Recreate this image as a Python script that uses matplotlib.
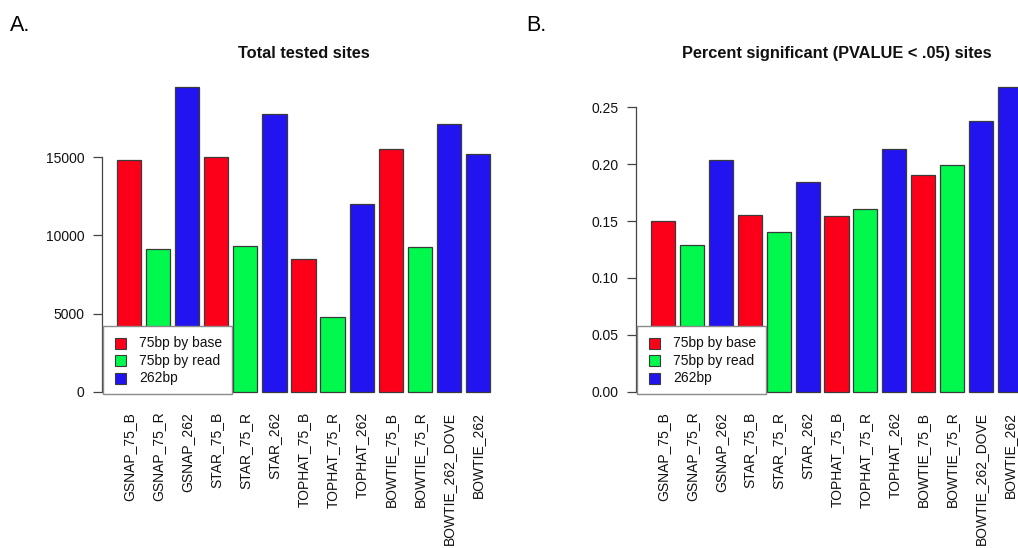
import matplotlib
matplotlib.use("Agg")
import matplotlib.pyplot as plt
import matplotlib.transforms as mtransforms
from matplotlib.patches import Rectangle

# ---- data -------------------------------------------------------------
samples = ["GSNAP_75_B", "GSNAP_75_R", "GSNAP_262",
           "STAR_75_B", "STAR_75_R", "STAR_262",
           "TOPHAT_75_B", "TOPHAT_75_R", "TOPHAT_262",
           "BOWTIE_75_B", "BOWTIE_75_R", "BOWTIE_262_DOVE", "BOWTIE_262"]
sample_group = [0, 1, 2, 0, 1, 2, 0, 1, 2, 0, 1, 2, 2]

total_sites = [14800, 9100, 19500, 15000, 9300, 17750,
               8500, 4750, 12000, 15500, 9250, 17100, 15200]
pct_significant = [0.150, 0.129, 0.204, 0.155, 0.140, 0.184,
                   0.154, 0.161, 0.213, 0.190, 0.199, 0.238, 0.268]

group_labels = ["75bp by base", "75bp by read", "262bp"]
group_colors = ["#fd0019", "#00f94c", "#2114f0"]

left_yticks = [0, 5000, 10000, 15000]
right_yticks = [0.00, 0.05, 0.10, 0.15, 0.20, 0.25]

titles = ["Total tested sites", "Percent significant (PVALUE < .05) sites"]
panel_tags = ["A.", "B."]

# ---- figure -------------------------------------------------------------
W, H = 1018, 548
fig = plt.figure(figsize=(W / 100, H / 100), dpi=100)
plt.rcParams["font.family"] = ["Liberation Sans", "DejaVu Sans"]

# pixel coordinates measured from the top-left corner
px = mtransforms.Affine2D().scale(1 / W, -1 / H).translate(0, 1) + fig.transFigure


def axes_at(x0, x1, y0, y1):
    return fig.add_axes([x0 / W, 1 - y1 / H, (x1 - x0) / W, (y1 - y0) / H])


def barplot(ax, values, yticks, fmt):
    # R-style barplot: width 1, gap 0.2, 4% padding on both axes
    n = len(values)
    lefts = [0.2 + 1.2 * i for i in range(n)]
    centers = [l + 0.5 for l in lefts]
    colors = [group_colors[g] for g in sample_group]
    ax.bar(centers, values, width=1.0, color=colors,
           edgecolor="#3a3a3a", linewidth=0.9, zorder=2)
    xr = (lefts[-1] + 1.0) - lefts[0]
    ax.set_xlim(lefts[0] - 0.04 * xr, lefts[-1] + 1.0 + 0.04 * xr)
    top = max(values)
    ax.set_ylim(-0.04 * top, top * 1.04)
    for s in ["top", "right", "bottom"]:
        ax.spines[s].set_visible(False)
    ax.spines["left"].set_bounds(yticks[0], yticks[-1])
    ax.spines["left"].set_color("#444444")
    ax.spines["left"].set_linewidth(0.9)
    ax.set_yticks(yticks)
    ax.set_yticklabels([fmt(v) for v in yticks])
    ax.tick_params(axis="y", length=6.5, width=0.9, color="#444444",
                   pad=6, labelsize=10, labelcolor="#111111")
    ax.set_xticks(centers)
    ax.set_xticklabels(samples, rotation=90, va="top", ha="center")
    ax.tick_params(axis="x", length=0, pad=5.5, labelsize=10,
                   labelcolor="#111111")
    ax.patch.set_alpha(0)


def legend_box(x0, y0, y1, w):
    # framed legend in pixel coordinates
    fig.add_artist(Rectangle((x0, y1), w, y0 - y1, transform=px,
                             facecolor="white", edgecolor="#8a8a8a",
                             linewidth=1.0, zorder=5))
    for i, (lab, col) in enumerate(zip(group_labels, group_colors)):
        yc = y0 + 17 + 17.5 * i
        fig.add_artist(Rectangle((x0 + 12, yc + 5.5), 11.5, -11, transform=px,
                                 facecolor=col, edgecolor="#3a3a3a",
                                 linewidth=0.8, zorder=6))
        fig.text(x0 + 36, yc, lab, transform=px, fontsize=10,
                 va="center", ha="left", color="#111111", zorder=7)


# panel A
axA = axes_at(102, 505, 74.5, 404)
barplot(axA, total_sites, left_yticks, lambda v: f"{v:d}")
axA.set_title(titles[0], fontsize=11.8, fontweight="bold", pad=12,
              color="#111111")
legend_box(103, 326, 394, 129)

# panel B
axB = axes_at(636, 1037, 74.5, 404)
barplot(axB, pct_significant, right_yticks, lambda v: f"{v:.2f}")
axB.set_title(titles[1], fontsize=11.8, fontweight="bold", pad=12,
              color="#111111")
legend_box(637, 326, 394, 129)

fig.text(10, 31, panel_tags[0], transform=px, fontsize=15.5,
         va="baseline", ha="left")
fig.text(526, 31, panel_tags[1], transform=px, fontsize=15.5,
         va="baseline", ha="left")

fig.savefig("out.png", dpi=100)
